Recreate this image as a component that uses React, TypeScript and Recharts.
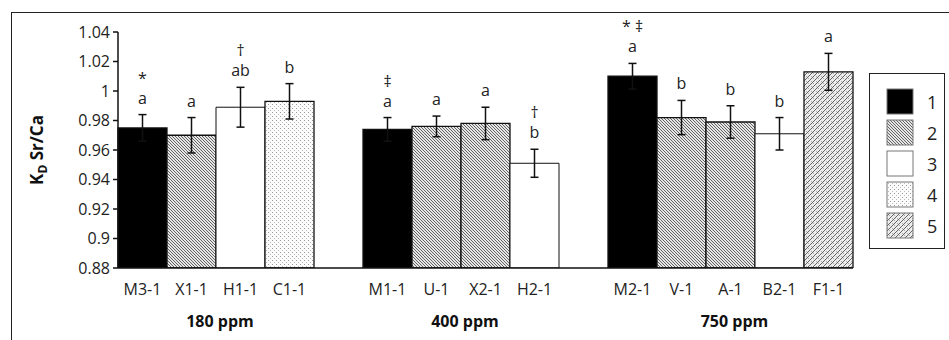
import React from 'react';
import { BarChart, Bar, XAxis, YAxis, ErrorBar, Cell, LabelList } from 'recharts';

// Sample order along the x axis; blank entries are the spacers between groups
const samples = ['M3-1', 'X1-1', 'H1-1', 'C1-1', '', 'M1-1', 'U-1', 'X2-1', 'H2-1', '', 'M2-1', 'V-1', 'A-1', 'B2-1', 'F1-1'];
const kdValues = [0.975, 0.970, 0.989, 0.993, null, 0.974, 0.976, 0.978, 0.951, null, 1.010, 0.982, 0.979, 0.971, 1.013];
const kdErrors = [0.009, 0.012, 0.0135, 0.012, null, 0.008, 0.007, 0.011, 0.0095, null, 0.0087, 0.0116, 0.011, 0.011, 0.0125];
const fillTypes = [1, 2, 3, 4, 0, 1, 2, 2, 3, 0, 1, 2, 2, 3, 5];
const letters = ['a', 'a', 'ab', 'b', '', 'a', 'a', 'a', 'b', '', 'a', 'b', 'b', 'b', 'a'];
const symbols = ['*', '', '†', '', '', '‡', '', '', '†', '', '* ‡', '', '', '', ''];

const groupLabels = ['180 ppm', '400 ppm', '750 ppm'];
const groupFirst = [0, 5, 10];
const groupLast = [3, 8, 14];

const yTicks = [0.88, 0.9, 0.92, 0.94, 0.96, 0.98, 1, 1.02, 1.04];
const legendKeys = ['1', '2', '3', '4', '5'];

const FONT = '"Open Sans", "DejaVu Sans", sans-serif';
const Y_MIN = 0.88;

const fillFor = (t: number) => {
  switch (t) {
    case 1: return '#000';
    case 2: return 'url(#hatch)';
    case 3: return '#fff';
    case 4: return 'url(#dots)';
    case 5: return 'url(#cross)';
    default: return 'none';
  }
};

const data = samples.map((name, i) => ({
  name,
  kd: kdValues[i],
  err: kdErrors[i],
}));

const CategoryTick = (props: any) => {
  const { x, y, payload, index, width } = props;
  const band = width / samples.length;
  const g = groupFirst.indexOf(index);
  let groupText = null;
  if (g >= 0) {
    const cx = x + ((groupLast[g] - groupFirst[g]) * band) / 2 + 4;
    groupText = (
      <text x={cx} y={y + 45} textAnchor="middle" fontSize={16} fontWeight="bold" fill="#111" fontFamily={FONT}>
        {groupLabels[g]}
      </text>
    );
  }
  return (
    <g>
      <text x={x} y={y + 13} textAnchor="middle" fontSize={16} fill="#222" fontFamily={FONT}>
        {payload.value}
      </text>
      {groupText}
    </g>
  );
};

// Letters and symbols sit above each error bar cap
const SignificanceLabel = (props: any) => {
  const { x, y, width, height, value } = props;
  const i = samples.indexOf(value);
  const v = kdValues[i];
  const e = kdErrors[i];
  if (i < 0 || v == null || e == null) return null;
  const pxPerUnit = height / (v - Y_MIN);
  const errTop = y - e * pxPerUnit;
  const cx = x + width / 2;
  return (
    <g fontFamily={FONT} fontSize={16} fill="#222" textAnchor="middle">
      <text x={cx} y={errTop - 11}>{letters[i]}</text>
      {symbols[i] && <text x={cx} y={errTop - 31}>{symbols[i]}</text>}
    </g>
  );
};

const YTitle = (props: any) => {
  const { viewBox } = props;
  const cx = 43;
  const cy = viewBox.y + viewBox.height / 2;
  return (
    <text transform={`translate(${cx},${cy}) rotate(-90)`} textAnchor="middle" fontFamily={FONT} fontSize={17} fontWeight="bold" fill="#111">
      K<tspan fontSize={12} dy={4}>D</tspan><tspan dy={-4}> Sr/Ca</tspan>
    </text>
  );
};

const Swatch = ({ t }: { t: number }) => (
  <svg width={28} height={27} style={{ display: 'block' }}>
    <rect x={1} y={1} width={26} height={25} fill={fillFor(t)} stroke="#777" strokeWidth={1} />
  </svg>
);

export default function App() {
  return (
    <div style={{ position: 'absolute', left: 0, top: 0, width: 949, height: 340, background: '#fff', overflow: 'hidden' }}>
      <div style={{ position: 'absolute', left: 11, top: 12, width: 960, height: 360, borderTop: '1.5px solid #222', borderLeft: '1.5px solid #222' }} />
      <BarChart
        width={949}
        height={340}
        data={data}
        margin={{ top: 32, right: 96, bottom: 12, left: 0 }}
        barCategoryGap={0}
        style={{ position: 'absolute', left: 0, top: 0 }}
      >
        <defs>
          <pattern id="hatch" patternUnits="userSpaceOnUse" width={3} height={3}>
            <rect width={3} height={3} fill="#e6e6e6" />
            <path d="M-1,-1 L4,4 M-1,2 L1,4 M2,-1 L4,1" stroke="#555" strokeWidth={0.9} />
          </pattern>
          <pattern id="dots" patternUnits="userSpaceOnUse" width={4} height={4}>
            <rect width={4} height={4} fill="#fbfbfb" />
            <rect x={0} y={0} width={1} height={1} fill="#999" />
            <rect x={2} y={2} width={1} height={1} fill="#bbb" />
          </pattern>
          <pattern id="cross" patternUnits="userSpaceOnUse" width={5} height={5}>
            <rect width={5} height={5} fill="#ececec" />
            <rect x={1} y={1} width={1} height={1} fill="#aaa" />
            <rect x={3} y={3} width={1} height={1} fill="#aaa" />
            <path d="M-1,6 L6,-1 M-1,1 L1,-1 M4,6 L6,4" stroke="#555" strokeWidth={0.9} />
          </pattern>
        </defs>
        <XAxis
          dataKey="name"
          height={60}
          interval={0}
          tickLine={false}
          tickSize={12}
          axisLine={{ stroke: '#111', strokeWidth: 1.5 }}
          tick={<CategoryTick />}
        />
        <YAxis
          width={118}
          domain={[0.88, 1.04]}
          ticks={yTicks}
          allowDataOverflow
          tickSize={5}
          tickMargin={3}
          axisLine={{ stroke: '#111', strokeWidth: 1.5 }}
          tickLine={{ stroke: '#111', strokeWidth: 1.5 }}
          tick={{ fontSize: 16, fill: '#222', fontFamily: FONT }}
          tickFormatter={(v: number) => String(Number(v.toFixed(2)))}
          label={<YTitle />}
        />
        <Bar dataKey="kd" isAnimationActive={false} stroke="#111" strokeWidth={1.3}>
          {data.map((d, i) => (
            <Cell key={`c-${i}`} fill={fillFor(fillTypes[i])} strokeWidth={fillTypes[i] === 3 ? 1 : 1.3} />
          ))}
          <ErrorBar dataKey="err" direction="y" width={4} stroke="#111" strokeWidth={1.5} />
          <LabelList dataKey="name" content={<SignificanceLabel />} />
        </Bar>
      </BarChart>
      <div
        style={{
          position: 'absolute',
          left: 869,
          top: 73,
          width: 76,
          height: 176,
          border: '1.5px solid #222',
          boxSizing: 'border-box',
          paddingTop: 12,
          paddingLeft: 16,
          fontFamily: FONT,
          fontSize: 18,
          color: '#222',
        }}
      >
        {legendKeys.map((k, i) => (
          <div key={k} style={{ display: 'flex', alignItems: 'center', height: 31 }}>
            <Swatch t={i + 1} />
            <span style={{ marginLeft: 13 }}>{k}</span>
          </div>
        ))}
      </div>
    </div>
  );
}
